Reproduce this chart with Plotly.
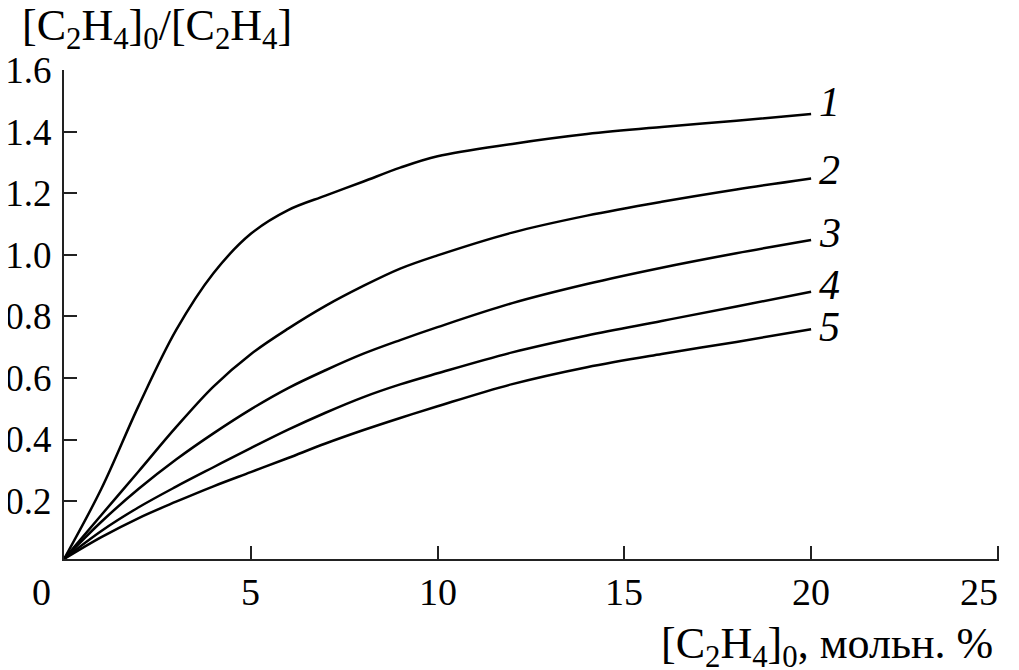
import plotly.graph_objects as go

# ---- data ----
x_vals = [0, 1, 2, 3, 4, 5, 6, 7, 8, 9, 10, 12, 14, 16, 18, 20]
curve1 = [0.012, 0.24, 0.51, 0.755, 0.94, 1.068, 1.145, 1.192, 1.237, 1.283, 1.32, 1.36, 1.392, 1.415, 1.435, 1.457]
curve2 = [0.012, 0.155, 0.297, 0.44, 0.572, 0.677, 0.76, 0.834, 0.898, 0.955, 0.998, 1.072, 1.127, 1.172, 1.212, 1.248]
curve3 = [0.012, 0.133, 0.24, 0.335, 0.42, 0.498, 0.567, 0.625, 0.678, 0.723, 0.765, 0.843, 0.905, 0.958, 1.005, 1.048]
curve4 = [0.012, 0.103, 0.18, 0.247, 0.31, 0.372, 0.432, 0.487, 0.537, 0.579, 0.615, 0.683, 0.738, 0.785, 0.832, 0.88]
curve5 = [0.012, 0.083, 0.145, 0.198, 0.248, 0.294, 0.34, 0.387, 0.43, 0.47, 0.508, 0.58, 0.635, 0.678, 0.717, 0.758]
curve_labels = ["1", "2", "3", "4", "5"]

x_ticks = [0, 5, 10, 15, 20, 25]
x_tick_labels = ["0", "5", "10", "15", "20", "25"]
y_ticks = [0.2, 0.4, 0.6, 0.8, 1.0, 1.2, 1.4, 1.6]
y_tick_labels = ["0.2", "0.4", "0.6", "0.8", "1.0", "1.2", "1.4", "1.6"]

y_title = "[C<sub>2</sub>H<sub>4</sub>]<sub>0</sub>/[C<sub>2</sub>H<sub>4</sub>]"
x_title = "[C<sub>2</sub>H<sub>4</sub>]<sub>0</sub>, мольн. %"

FONT = "Liberation Serif"
FS = 37
FS_TITLE = 44

fig = go.Figure()
curves = [curve1, curve2, curve3, curve4, curve5]
for c in curves:
    fig.add_trace(go.Scatter(x=x_vals, y=c, mode="lines",
                             line=dict(color="black", width=2.5, shape="spline", smoothing=1.0),
                             showlegend=False, hoverinfo="skip", cliponaxis=False))

annotations = []
# curve labels
label_dy = [12, 8, 7, 7, 2]
for c, lab, dy in zip(curves, curve_labels, label_dy):
    annotations.append(dict(x=x_vals[-1], y=c[-1], xref="x", yref="y", text=lab,
                            showarrow=False, xanchor="left", yanchor="middle",
                            xshift=6, yshift=dy,
                            font=dict(family=FONT, size=42, color="black", style="italic")))
# x tick labels
for tv, tl in zip(x_ticks, x_tick_labels):
    xa, xs = "center", 0
    if tv == x_ticks[0]:
        xs = -23
    if tv == x_ticks[-1]:
        xa = "right"
        xs = 2
    annotations.append(dict(x=tv, y=0, xref="x", yref="paper", text=tl, showarrow=False,
                            xanchor=xa, yanchor="top", xshift=xs, yshift=-10,
                            font=dict(family=FONT, size=FS + 1, color="black")))
# axis titles
annotations.append(dict(x=0, y=1, xref="paper", yref="paper", text=y_title, showarrow=False,
                        xanchor="left", yanchor="bottom", xshift=-44, yshift=12,
                        font=dict(family=FONT, size=FS_TITLE, color="black")))
annotations.append(dict(x=1, y=0, xref="paper", yref="paper", text=x_title, showarrow=False,
                        xanchor="right", yanchor="top", xshift=-4, yshift=-58,
                        font=dict(family=FONT, size=FS_TITLE, color="black")))

# page body has an 8px default margin, so the figure is made 8px smaller
fig.update_layout(
    width=1011, height=662,
    margin=dict(l=56, r=20, t=62, b=111, autoexpand=False),
    paper_bgcolor="white", plot_bgcolor="white",
    annotations=annotations,
    xaxis=dict(range=[0, 25.03], showgrid=False, zeroline=False, automargin=False,
               showline=True, linecolor="#222", linewidth=2,
               tickvals=x_ticks, ticks="inside", ticklen=13, tickwidth=2, tickcolor="#222",
               showticklabels=False),
    yaxis=dict(range=[0.012, 1.6], showgrid=False, zeroline=False, automargin=False,
               showline=True, linecolor="#222", linewidth=2,
               tickvals=y_ticks, ticktext=y_tick_labels,
               ticks="inside", ticklen=13, tickwidth=2, tickcolor="#222",
               ticklabelstandoff=3,
               tickfont=dict(family=FONT, size=FS, color="black")),
)

fig.write_html("out.html")
